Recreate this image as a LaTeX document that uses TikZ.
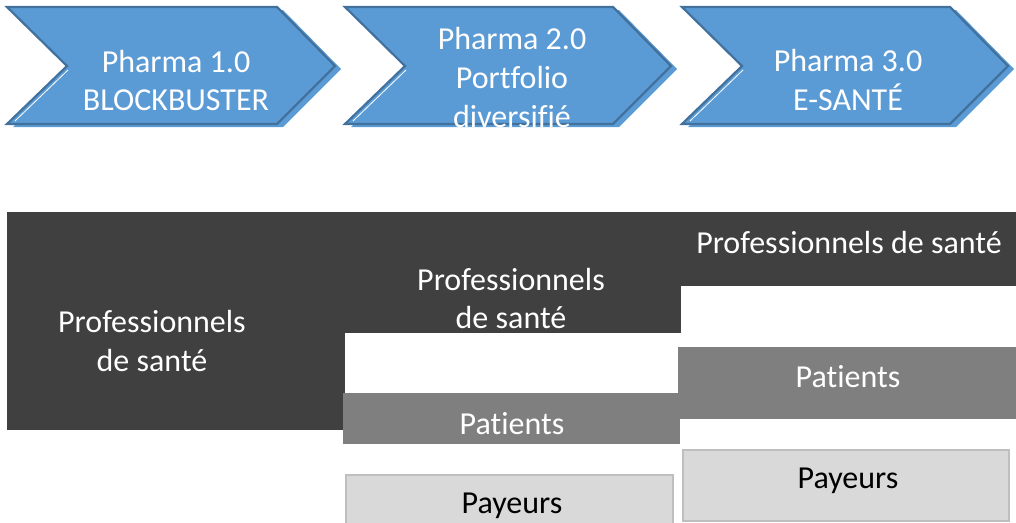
\documentclass[tikz,border=0pt]{standalone}
\usepackage{fontspec}
\setmainfont{Carlito}[RawFeature={-liga;-clig;-dlig}]
\definecolor{chevfill}{HTML}{5B9BD5}
\definecolor{chevline}{HTML}{41719C}
\definecolor{darkg}{HTML}{404040}
\definecolor{midg}{HTML}{7F7F7F}
\definecolor{lightg}{HTML}{D9D9D9}
\definecolor{lightline}{HTML}{BFBFBF}
\begin{document}
\begin{tikzpicture}[x=1pt,y=-1pt,
  chev/.style={fill=chevfill, draw=chevline, line width=2.2pt, line join=miter},
  chevshadow/.style={fill=chevfill},
  wtxt/.style={text=white, font=\fontsize{32}{39}\selectfont, inner sep=0pt, anchor=base},
  btxt/.style={text=black, font=\fontsize{32}{39}\selectfont, inner sep=0pt, anchor=base},
  darkbox/.style={fill=darkg, draw=none, inner sep=0pt, anchor=north west},
  midbox/.style={fill=midg, draw=none, inner sep=0pt, anchor=north west},
  lightbox/.style={fill=lightg, draw=lightline, line width=2pt, inner sep=0pt, anchor=north west}]
\useasboundingbox (0,0) rectangle (1016,522);
\clip (0,0) rectangle (1016,522);
% chevrons
\foreach \l/\r in {7/277, 345/613, 682/950}{
  \fill[chevshadow, shift={(6,3)}] (\l,7) -- (\r,7) -- ({\r+58},66) -- (\r,124) -- (\l,124) -- ({\l+60},66) -- cycle;
  \draw[chev] (\l,7) -- (\r,7) -- ({\r+58},66) -- (\r,124) -- (\l,124) -- ({\l+60},66) -- cycle;
  \draw[white, line width=0.8pt] ({\l+8},121) -- ({\l+61},70);
}
\node[wtxt] (c1a) at (176,72) {Pharma 1.0};
\node[wtxt] (c1b) at (176,110) {BLOCKBUSTER};
\node[wtxt] (c2a) at (512,49) {Pharma 2.0};
\node[wtxt] (c2b) at (512,88) {Portfolio};
\node[wtxt] (c2c) at (512,127) {diversifié};
\node[wtxt] (c3a) at (848,71) {Pharma 3.0};
\node[wtxt] (c3b) at (848,110) {E-SANTÉ};
% boxes
\node[darkbox, minimum width=338, minimum height=218] (b1) at (7,212) {};
\node[darkbox, minimum width=336, minimum height=121] (b2) at (345,212) {};
\node[darkbox, minimum width=345, minimum height=74] (b3) at (679,212) {};
\node[midbox, minimum width=337, minimum height=51] (p2) at (343,393) {};
\node[midbox, minimum width=345, minimum height=72] (p3) at (678,347) {};
\node[lightbox, minimum width=327, minimum height=60] (y2) at (345,474) {};
\node[lightbox, minimum width=326, minimum height=71] (y3) at (682,449) {};
% texts
\node[wtxt] (t1a) at (152,332) {Professionnels};
\node[wtxt] (t1b) at (152,371) {de santé};
\node[wtxt] (t2a) at (511,290) {Professionnels};
\node[wtxt] (t2b) at (511,328) {de santé};
\node[wtxt] (t3a) at (849,253) {Professionnels de santé};
\node[wtxt] (tp2) at (512,434) {Patients};
\node[wtxt] (tp3) at (848,387) {Patients};
\node[btxt] (ty2) at (512,513) {Payeurs};
\node[btxt] (ty3) at (848,488) {Payeurs};
\end{tikzpicture}
\end{document}
